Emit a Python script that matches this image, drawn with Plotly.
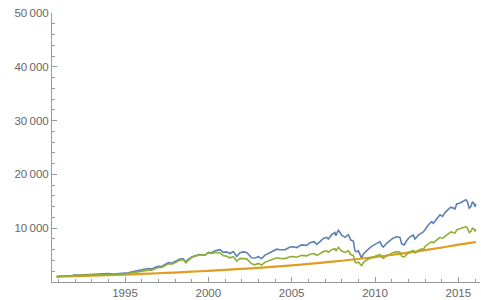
import plotly.graph_objects as go

blue_years = [1990.9, 1991.2, 1991.5, 1991.8, 1992.0, 1992.3, 1992.6, 1992.9, 1993.2, 1993.5, 1993.8,
              1994.0, 1994.3, 1994.6, 1994.9, 1995.2, 1995.5, 1995.8, 1996.0, 1996.3, 1996.5, 1996.6,
              1996.8, 1997.0, 1997.2, 1997.4, 1997.6, 1997.8, 1998.0, 1998.3, 1998.5, 1998.65, 1998.8,
              1999.0, 1999.3, 1999.5, 1999.8, 2000.0, 2000.2, 2000.4, 2000.7, 2000.9, 2001.1, 2001.3,
              2001.5, 2001.7, 2001.9, 2002.1, 2002.3, 2002.5, 2002.6, 2002.8, 2003.0, 2003.2, 2003.4,
              2003.6, 2003.9, 2004.1, 2004.3, 2004.6, 2004.9, 2005.1, 2005.3, 2005.6, 2005.9, 2006.1,
              2006.35, 2006.5, 2006.7, 2006.9, 2007.1, 2007.2, 2007.4, 2007.6, 2007.65, 2007.8, 2007.9,
              2008.0, 2008.2, 2008.4, 2008.55, 2008.7, 2008.8, 2008.9, 2009.0, 2009.15, 2009.2, 2009.3,
              2009.5, 2009.7, 2009.9, 2010.1, 2010.3, 2010.4, 2010.5, 2010.7, 2010.9, 2011.1, 2011.3,
              2011.5, 2011.6, 2011.75, 2011.9, 2012.1, 2012.3, 2012.4, 2012.6, 2012.8, 2012.9, 2013.0,
              2013.2, 2013.4, 2013.5, 2013.7, 2013.9, 2014.05, 2014.2, 2014.4, 2014.55, 2014.8, 2014.9,
              2015.1, 2015.3, 2015.45, 2015.55, 2015.65, 2015.75, 2015.85, 2015.95, 2016.0, 2016.05]
blue_values = [1000, 1120, 1150, 1180, 1300, 1290, 1340, 1380, 1460, 1470, 1530,
               1560, 1500, 1550, 1560, 1720, 1930, 2150, 2320, 2450, 2480, 2400,
               2700, 2900, 2880, 3300, 3600, 3500, 3750, 4250, 4300, 3700, 4200,
               4650, 4950, 5100, 5000, 5500, 5450, 5800, 6000, 5500, 5600, 5300,
               5650, 4750, 5450, 5600, 5500, 4800, 4500, 4450, 4700, 4350, 5000,
               5300, 5700, 6100, 6000, 6000, 6500, 6550, 6400, 6900, 6800, 7300,
               7500, 7000, 7500, 8100, 8300, 8000, 8800, 9200, 8600, 9600, 9200,
               8700, 8300, 8800, 7800, 7600, 5800, 5600, 5800, 4700, 4400, 5200,
               5900, 6400, 6800, 7100, 7500, 6800, 6500, 7200, 7700, 8200, 8400,
               8300, 7100, 6900, 7700, 8400, 8700, 8000, 8700, 9100, 9300, 9700,
               10600, 11200, 10900, 11700, 12500, 12200, 12900, 13500, 13900, 13600, 14500,
               14700, 15000, 15300, 14900, 13700, 14000, 14900, 14500, 14000, 14500]

green_years = blue_years
green_values = [1000, 1100, 1120, 1140, 1250, 1230, 1270, 1300, 1370, 1390, 1420,
                1450, 1400, 1420, 1430, 1580, 1750, 1950, 2100, 2230, 2260, 2200,
                2500, 2700, 2700, 3100, 3400, 3300, 3550, 4100, 4150, 3550, 4050,
                4550, 4900, 5050, 5000, 5450, 5300, 5500, 5450, 4900, 4800, 4500,
                4700, 3900, 4400, 4400, 4300, 3700, 3400, 3200, 3450, 3150, 3700,
                3900, 4200, 4500, 4400, 4350, 4700, 4750, 4600, 4950, 4850, 5150,
                5300, 4950, 5250, 5650, 5800, 5550, 6000, 6200, 5750, 6450, 6100,
                5750, 5500, 5800, 5100, 4900, 3700, 3550, 3700, 3300, 3050, 3600,
                4100, 4400, 4650, 4800, 5100, 4600, 4400, 4850, 5200, 5500, 5650,
                5550, 4800, 4650, 5150, 5650, 5850, 5400, 5850, 6150, 6000, 6600,
                7100, 7500, 7300, 7800, 8300, 8100, 8500, 8900, 9300, 9100, 9700,
                9900, 10100, 10300, 10000, 9200, 9400, 10000, 9800, 9400, 9800]

orange_years = [1990.9, 1992, 1993, 1994, 1995, 1996, 1997, 1998, 1999, 2000, 2001, 2002, 2003,
                2004, 2005, 2006, 2007, 2008, 2009, 2010, 2011, 2012, 2013, 2014, 2015, 2016.05]
orange_values = [1000, 1085, 1175, 1275, 1380, 1500, 1625, 1760, 1910, 2070, 2245, 2435, 2640,
                 2860, 3100, 3360, 3640, 3950, 4280, 4640, 5030, 5450, 5910, 6400, 6940, 7400]

y_ticks = [10000, 20000, 30000, 40000, 50000]
y_labels = ["10\u2009000", "20\u2009000", "30\u2009000", "40\u2009000", "50\u2009000"]
x_ticks = [1995, 2000, 2005, 2010, 2015]
x_labels = ["1995", "2000", "2005", "2010", "2015"]

fig = go.Figure()
fig.add_trace(go.Scatter(x=blue_years, y=blue_values, mode="lines",
                         line=dict(color="#5E81B5", width=1.6)))
fig.add_trace(go.Scatter(x=orange_years, y=orange_values, mode="lines",
                         line=dict(color="#E19C24", width=2.2, shape="spline")))
fig.add_trace(go.Scatter(x=green_years, y=green_values, mode="lines",
                         line=dict(color="#8FB032", width=1.6)))

axis_col = "#999999"
font_col = "#666666"
fig.update_layout(
    width=481, height=300,
    margin=dict(l=52, r=1, t=13, b=18, autoexpand=False),
    paper_bgcolor="white", plot_bgcolor="white",
    showlegend=False,
    font=dict(family="Liberation Sans, Arial, sans-serif", size=11.5, color=font_col),
    xaxis=dict(range=[1990.62, 2016.3], showgrid=False, zeroline=False, automargin=False,
               showline=True, linecolor=axis_col, linewidth=1,
               tickmode="array", tickvals=x_ticks, ticktext=x_labels,
               ticks="inside", ticklen=5, tickcolor=axis_col, ticklabelstandoff=0,
               minor=dict(tickmode="linear", tick0=1991, dtick=1, ticks="inside",
                          ticklen=3, tickcolor=axis_col, showgrid=False)),
    yaxis=dict(range=[0, 50000], showgrid=False, zeroline=False, automargin=False,
               showline=True, linecolor=axis_col, linewidth=1,
               tickmode="array", tickvals=y_ticks, ticktext=y_labels,
               ticks="inside", ticklen=5, tickcolor=axis_col, ticklabelstandoff=0,
               minor=dict(tickmode="linear", tick0=0, dtick=2000, ticks="inside",
                          ticklen=3, tickcolor=axis_col, showgrid=False)),
)

fig.write_html("out.html", config={"displayModeBar": False, "staticPlot": True},
               post_script="document.body.style.margin='0';document.body.style.overflow='hidden';")
